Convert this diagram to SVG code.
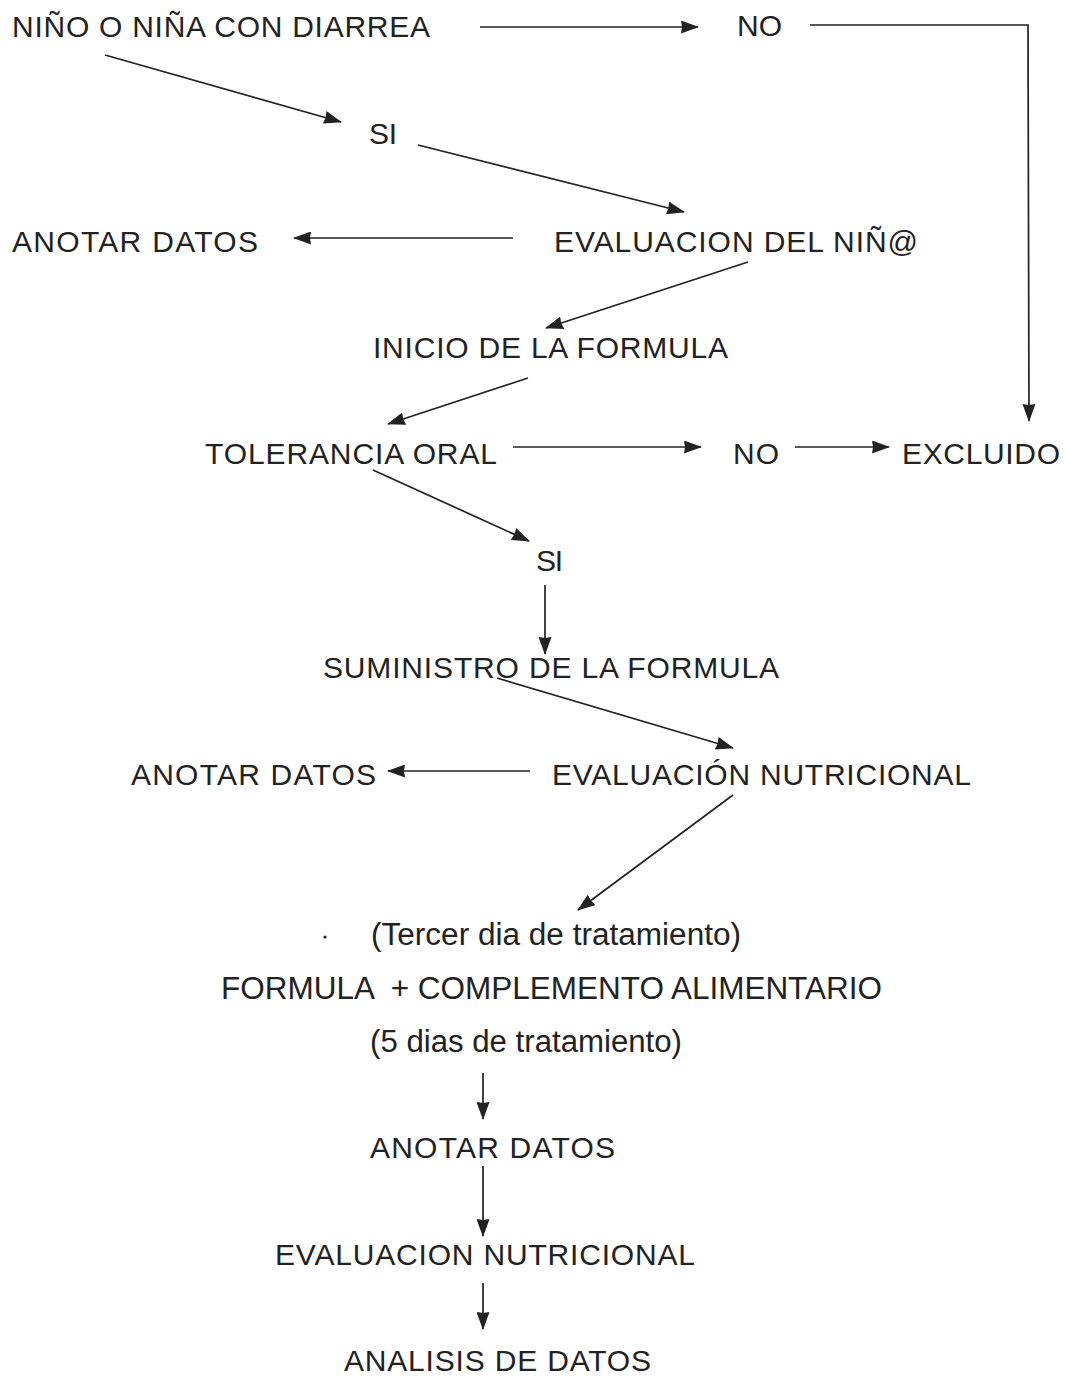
<svg xmlns="http://www.w3.org/2000/svg" width="1065" height="1376" viewBox="0 0 1065 1376">
<defs>
<style>
text{font-family:"Liberation Sans",Arial,sans-serif;font-size:30px;fill:#222;}
.n{font-size:31px;}
.c line,.c path{stroke:#222;stroke-width:1.7;fill:none;}
</style>
<marker id="a" viewBox="0 0 18 13" refX="17" refY="6.5" markerWidth="18" markerHeight="13" markerUnits="userSpaceOnUse" orient="auto">
<path d="M0,0 L18,6.5 L0,13 L1,6.5 Z" fill="#222"/>
</marker>
</defs>
<rect width="1065" height="1376" fill="#fff"/>
<g id="n1"><text x="12" y="37" textLength="418">NIÑO O NIÑA CON DIARREA</text></g>
<g id="n2"><text x="737" y="36" textLength="45">NO</text></g>
<g id="n3"><text x="369" y="144" textLength="28">SI</text></g>
<g id="n4"><text x="12" y="252" textLength="246">ANOTAR DATOS</text></g>
<g id="n5"><text x="554" y="252" textLength="364">EVALUACION DEL NIÑ@</text></g>
<g id="n6"><text x="373" y="358" textLength="355">INICIO DE LA FORMULA</text></g>
<g id="n7"><text x="205" y="464" textLength="292">TOLERANCIA ORAL</text></g>
<g id="n8"><text x="733" y="464" textLength="46">NO</text></g>
<g id="n9"><text x="902" y="464" textLength="158">EXCLUIDO</text></g>
<g id="n10"><text x="536" y="571" textLength="27">SI</text></g>
<g id="n11"><text x="323" y="678" textLength="456">SUMINISTRO DE LA FORMULA</text></g>
<g id="n12"><text x="131" y="785" textLength="245">ANOTAR DATOS</text></g>
<g id="n13"><text x="552" y="785" textLength="419">EVALUACIÓN NUTRICIONAL</text></g>
<g id="n14"><circle cx="325" cy="937" r="1.6" fill="#222"/><text class="n" x="371" y="945" textLength="370" lengthAdjust="spacingAndGlyphs">(Tercer dia de tratamiento)</text></g>
<g id="n15"><text class="n" x="221" y="999" textLength="661" lengthAdjust="spacingAndGlyphs" xml:space="preserve">FORMULA  + COMPLEMENTO ALIMENTARIO</text></g>
<g id="n16"><text class="n" x="370" y="1052" textLength="312" lengthAdjust="spacingAndGlyphs">(5 dias de tratamiento)</text></g>
<g id="n17"><text x="370" y="1158" textLength="245">ANOTAR DATOS</text></g>
<g id="n18"><text x="275" y="1265" textLength="420">EVALUACION NUTRICIONAL</text></g>
<g id="n19"><text x="344" y="1371" textLength="307">ANALISIS DE DATOS</text></g>
<g id="connectors" class="c">
<line x1="480" y1="27" x2="698" y2="27" marker-end="url(#a)"/>
<path d="M810,25 L1028,25 L1029,421" marker-end="url(#a)"/>
<line x1="105" y1="55" x2="341" y2="122" marker-end="url(#a)"/>
<line x1="418" y1="145" x2="684" y2="212" marker-end="url(#a)"/>
<line x1="513" y1="238" x2="294" y2="238" marker-end="url(#a)"/>
<line x1="748" y1="262" x2="546" y2="328" marker-end="url(#a)"/>
<line x1="528" y1="378" x2="388" y2="424" marker-end="url(#a)"/>
<line x1="513" y1="447" x2="701" y2="447" marker-end="url(#a)"/>
<line x1="795" y1="447" x2="889" y2="447" marker-end="url(#a)"/>
<line x1="373" y1="470" x2="529" y2="541" marker-end="url(#a)"/>
<line x1="545" y1="585" x2="545" y2="654" marker-end="url(#a)"/>
<line x1="497" y1="678" x2="733" y2="748" marker-end="url(#a)"/>
<line x1="530" y1="771" x2="388" y2="771" marker-end="url(#a)"/>
<line x1="733" y1="795" x2="578" y2="910" marker-end="url(#a)"/>
<line x1="483" y1="1073" x2="483" y2="1119" marker-end="url(#a)"/>
<line x1="483" y1="1166" x2="483" y2="1236" marker-end="url(#a)"/>
<line x1="483" y1="1283" x2="483" y2="1329" marker-end="url(#a)"/>
</g>
</svg>
